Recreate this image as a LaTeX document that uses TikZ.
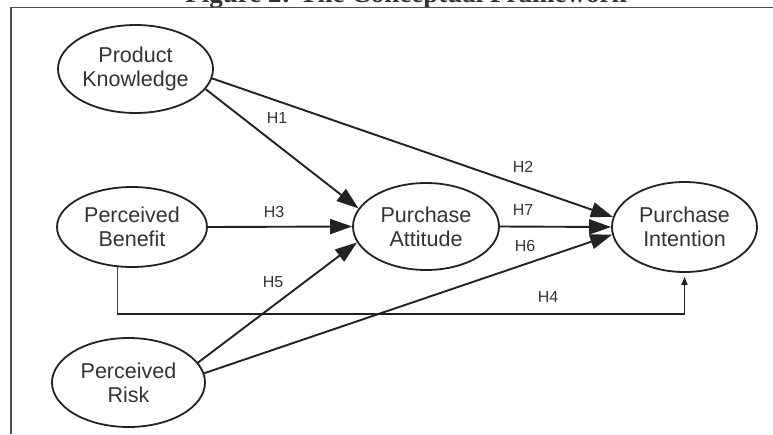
\documentclass[tikz,border=0pt]{standalone}
\usepackage{fontspec}
\setmainfont{Liberation Sans}
\newfontfamily\titlefont{Liberation Serif}
\usetikzlibrary{shapes.geometric,arrows.meta}
\definecolor{ink}{HTML}{222222}
\definecolor{txt}{HTML}{333333}
\definecolor{bline}{HTML}{2B4470}
\tikzset{
  construct/.style={draw=ink, line width=1.8pt, ellipse, inner sep=0pt, align=center,
    text=txt, font=\fontsize{21.5}{24}\selectfont},
  hyp/.style={draw=ink, line width=1.9pt, -{Triangle[length=22pt,width=15pt]}},
  hlabel/.style={text=txt, font=\fontsize{16}{16}\selectfont, inner sep=0pt},
  thin/.style={draw=ink, line width=1.3pt},
}
\begin{document}
\begin{tikzpicture}[x=1pt,y=-1pt]
\useasboundingbox (0,0) rectangle (773,434);
% title (cut off at the top)
\node[anchor=base, font=\titlefont\bfseries\fontsize{27}{27}\selectfont, text=txt, inner sep=0pt] (title) at (406,2) {Figure 2: The Conceptual Framework};
% frame
\coordinate (fl) at (11,434);
\coordinate (ftl) at (11,7.5);
\coordinate (ftr) at (780,7.5);
\draw[draw=ink!80, line width=1.5pt] (fl) -- (ftl) -- (ftr);
% constructs
\node[construct, minimum width=155pt, minimum height=88pt] (PK) at (135.5,69) {Product\\Knowledge};
\node[construct, minimum width=150pt, minimum height=80pt] (PB) at (132,227) {Perceived\\Benefit};
\node[construct, minimum width=153pt, minimum height=89pt] (PR) at (128.5,382.5) {Perceived\\Risk};
\node[construct, minimum width=146pt, minimum height=87pt] (PA) at (426,226.5) {Purchase\\Attitude};
\node[construct, minimum width=145pt, minimum height=90pt] (PI) at (684.5,227) {Purchase\\Intention};
% H4 path
\coordinate (h4a) at (PB.250 |- 0,314);
\coordinate (h4b) at (PI.south |- 0,314);
\draw[draw=bline, line width=1.3pt] (PB.250) -- (h4a);
\draw[thin, -{Triangle[length=8pt,width=6pt]}, shorten >=4pt] (h4a) -- (h4b) -- (PI.south);
% hypotheses
\draw[hyp] (PK.-16) -- (PA.165);
\draw[hyp] (PK.-7) -- (PI.172);
\draw[hyp] (PB.east) -- (PA.west);
\draw[hyp] (PA.east) -- (PI.west);
\draw[hyp] (PR.16) -- (PA.193);
\draw[hyp] (PR.7) -- (PI.186);
% labels
\node[hlabel] (l1) at (277,118) {H1};
\node[hlabel] (l2) at (523,167) {H2};
\node[hlabel] (l3) at (274,212) {H3};
\node[hlabel] (l4) at (548,297) {H4};
\node[hlabel] (l5) at (273,282) {H5};
\node[hlabel] (l6) at (525,246) {H6};
\node[hlabel] (l7) at (523,210) {H7};
\end{tikzpicture}
\end{document}
